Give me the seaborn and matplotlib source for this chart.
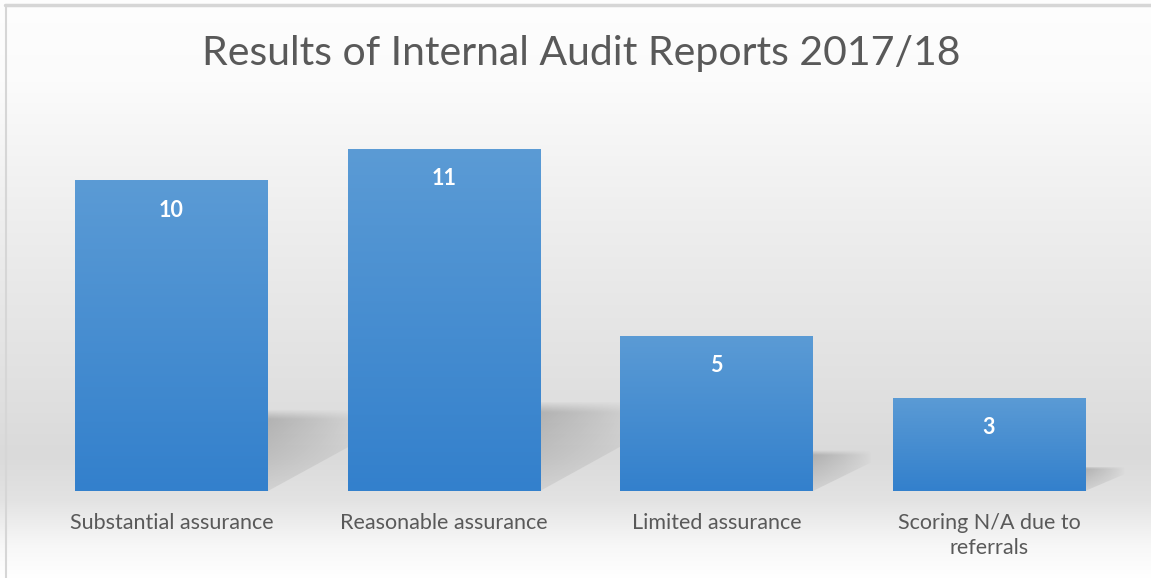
import numpy as np
import pandas as pd
import matplotlib
matplotlib.use("Agg")
import matplotlib.pyplot as plt
from matplotlib.colors import LinearSegmentedColormap
from matplotlib.patches import Polygon
import seaborn as sns

# ---- data ----
categories = ["Substantial assurance", "Reasonable assurance", "Limited assurance",
              "Scoring N/A due to\nreferrals"]
values = [10, 11, 5, 3]
title = "Results of Internal Audit Reports 2017/18"

df = pd.DataFrame({"category": categories, "value": values})

sns.set_theme(style="white")
plt.rcParams["font.family"] = ["Lato", "DejaVu Sans"]

W, H, DPI = 1151, 578, 100
fig = plt.figure(figsize=(W / DPI, H / DPI), dpi=DPI)

# background gradient (vertical)
bg = fig.add_axes([0, 0, 1, 1], zorder=0)
stops_px = [0, 80, 200, 400, 455, 500, 545, 578]
stops_v = [0.995, 0.985, 0.94, 0.875, 0.855, 0.89, 0.97, 1.0]
rows = np.interp(np.arange(H), stops_px, stops_v)
img = np.repeat(rows[:, None], 4, axis=1)
bg.imshow(np.dstack([img, img, img]), aspect="auto", extent=[0, 1, 0, 1], origin="upper")
bg.set_axis_off()
# border lines (top and left)
bg.plot([5 / W, 1], [1 - 4.5 / H, 1 - 4.5 / H], color="#d6d6d6", lw=2.5, transform=bg.transAxes)
bg.plot([5.5 / W, 5.5 / W], [0, 1 - 4.5 / H], color="#d6d6d6", lw=1.5, transform=bg.transAxes)
bg.set_xlim(0, 1); bg.set_ylim(0, 1)

# main axes
left_px, right_px, bottom_px, top_px = 35.25, 1125.25, 491, 118
ax = fig.add_axes([left_px / W, 1 - bottom_px / H, (right_px - left_px) / W, (bottom_px - top_px) / H],
                  zorder=1)
ax.patch.set_alpha(0)

sns.barplot(data=df, x="category", y="value", ax=ax, width=0.708, color="#5b9bd5",
            saturation=1, edgecolor="none", zorder=3)

# gradient fill for bars + shadows
bar_cmap = LinearSegmentedColormap.from_list("barg", ["#3380cc", "#5b9bd5"])
grad = np.linspace(0, 1, 256)[:, None]
for p in ax.patches:
    x0, y0, w, h = p.get_x(), p.get_y(), p.get_width(), p.get_height()
    p.set_facecolor("none")
    im = ax.imshow(grad, cmap=bar_cmap, aspect="auto", extent=[x0, x0 + w, y0, y0 + h],
                   origin="lower", zorder=3)
    im.set_clip_path(p)
    # shadow (soft wedge to the right of the bar foot)
    x1 = x0 + w
    top = 0.25 * h
    L = 0.035 * h + 0.04
    poly = Polygon([(x1, 0), (x1, top * 1.05), (x1 + L, top * 1.05), (x1 + L, 0.75 * top)],
                   closed=True, facecolor="none", edgecolor="none", transform=ax.transData)
    ax.add_patch(poly)
    ny, nx = 96, 96
    yy, xx = np.mgrid[0:1:ny * 1j, 0:1:nx * 1j]
    top_soft = np.clip((1.0 - yy) / 0.12, 0, 1)
    alpha = 0.34 * (0.3 + 0.7 * yy) * top_soft * (1 - xx) ** 0.8
    sh = np.zeros((ny, nx, 4))
    sh[..., :3] = 0.33
    sh[..., 3] = alpha
    s_im = ax.imshow(sh, aspect="auto", extent=[x1, x1 + L, 0, top * 1.05], origin="lower",
                     zorder=2, interpolation="bilinear")
    s_im.set_clip_path(poly)

ax.set_xlim(-0.5, len(categories) - 0.5)
ax.set_ylim(0, 12)

# value labels
for i, v in enumerate(values):
    ax.annotate(str(v), (i, v), xytext=(0, -21.5), textcoords="offset points",
                ha="center", va="center", color="white", fontsize=15.5, fontweight="bold", zorder=5)

ax.set_xlabel("")
ax.set_ylabel("")
ax.set_yticks([])
ax.tick_params(axis="x", length=0, pad=15.5, labelsize=15.5, labelcolor="#595959")
for lbl in ax.get_xticklabels():
    lbl.set_linespacing(1.35)
for s in ax.spines.values():
    s.set_visible(False)

fig.text(581 / W, 1 - 65.5 / H, title, ha="center", va="baseline", fontsize=29.5,
         color="#595959")

fig.savefig("out.png", dpi=DPI)
